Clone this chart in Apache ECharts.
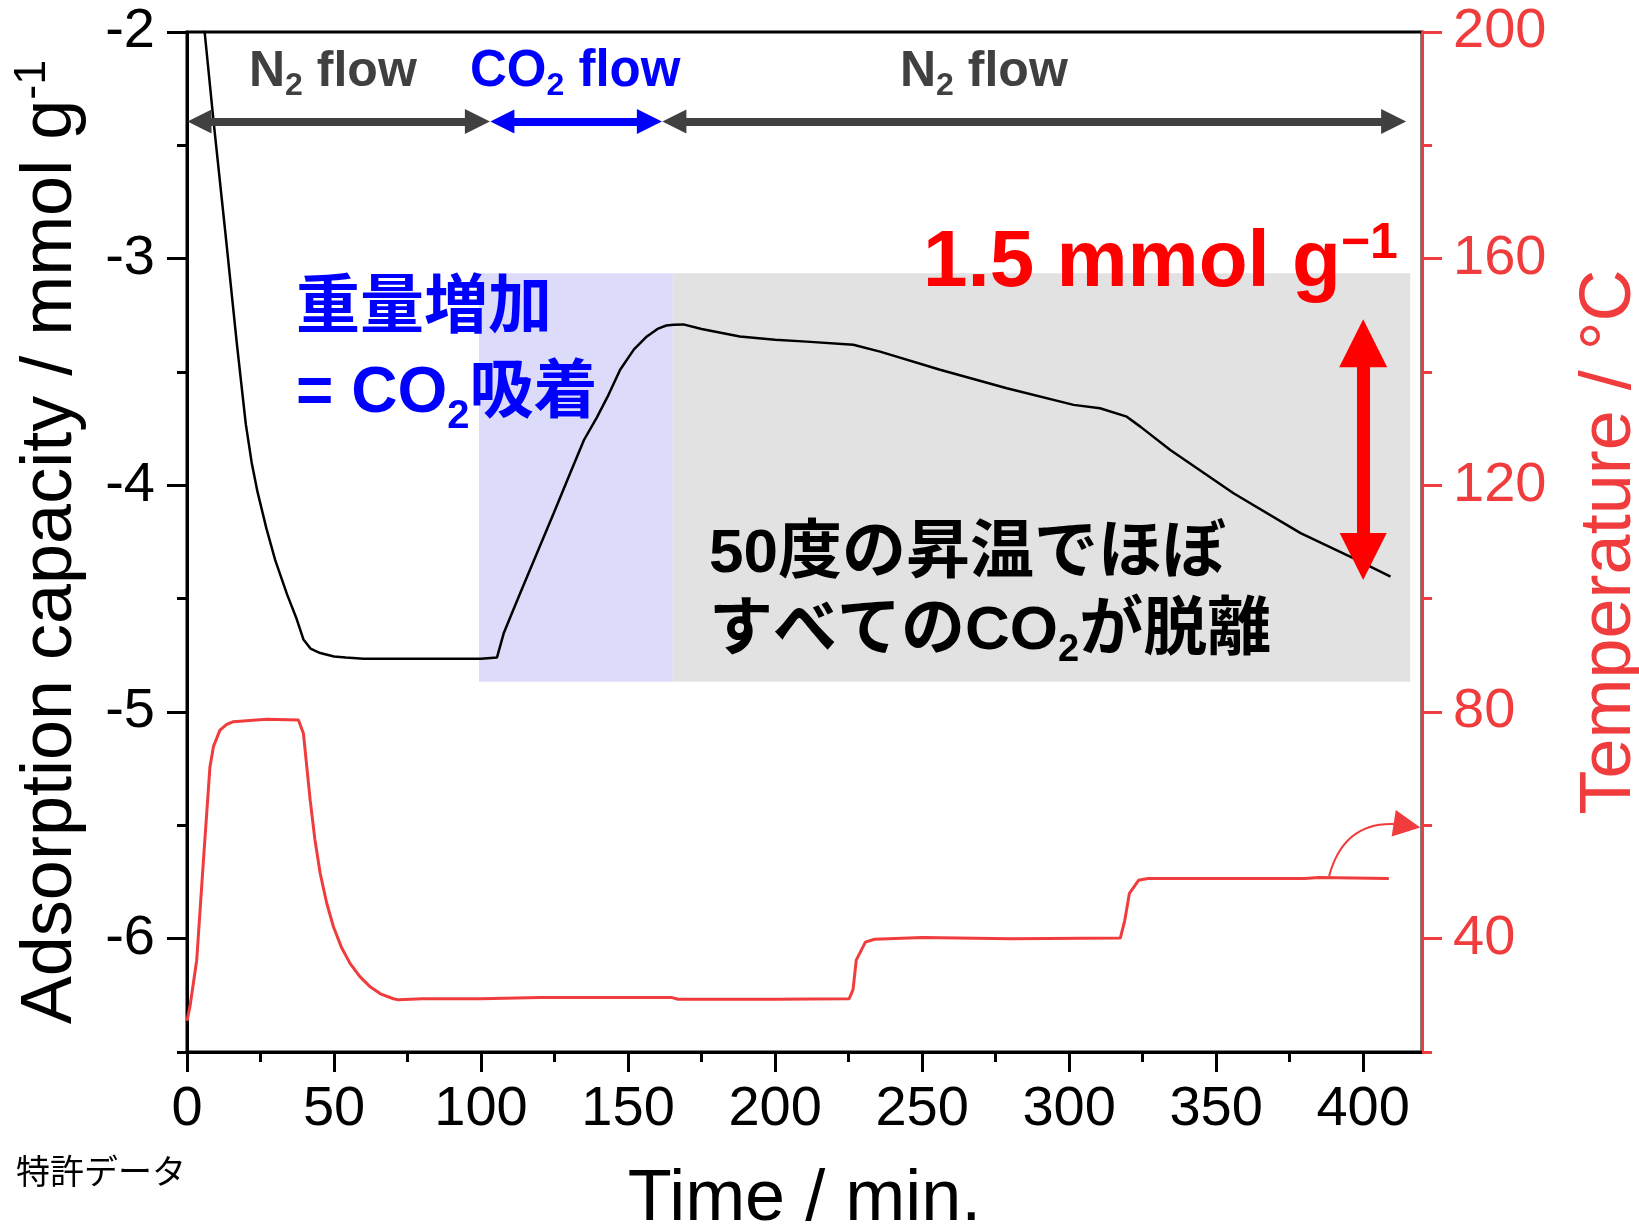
<!DOCTYPE html>
<html>
<head>
<meta charset="utf-8">
<script src="https://cdn.jsdelivr.net/npm/echarts@6/dist/echarts.min.js"></script>
<style>
html, body { margin: 0; padding: 0; background: #fff; }
#chart { width: 1639px; height: 1225px; }
</style>
</head>
<body>
<div id="chart"></div>
<script>
// ticks
const timeMajorTicks = [0, 50, 100, 150, 200, 250, 300, 350, 400]
const timeMinorTicks = [25, 75, 125, 175, 225, 275, 325, 375]
const capMajorTicks = [-6, -5, -4, -3, -2]
const capMinorTicks = [-6.5, -5.5, -4.5, -3.5, -2.5]
const tempMajorTicks = [40, 80, 120, 160, 200]
const tempMinorTicks = [20, 60, 100, 140, 180]

// adsorption capacity (mmol/g) vs time (min)
const capTime = [4, 6, 9, 13, 17, 20, 22, 24, 27, 30, 34, 37.3, 39.6, 42, 45.3, 50, 54, 60, 70, 80, 90, 100, 105.4,
    107.7, 110, 113.3, 119, 124.7, 130.3, 135, 139.4, 143, 147.3, 152, 156.4, 160, 163, 165.5, 168.8, 175, 188,
    200, 210.7, 226.6, 235.7, 256.1, 278.8, 301.5, 310.5, 319.6, 324.2, 334.4, 355.9, 378.7, 396.8, 409.3]
const capValue = [-1.75, -2.0, -2.39, -2.88, -3.38, -3.73, -3.9, -4.03, -4.19, -4.33, -4.48, -4.59, -4.68, -4.72, -4.74, -4.755, -4.76, -4.765, -4.765, -4.765, -4.765, -4.765, -4.76,
    -4.653, -4.58, -4.476, -4.3, -4.123, -3.947, -3.8, -3.7, -3.61, -3.49, -3.4, -3.343, -3.31, -3.295, -3.292, -3.29, -3.31, -3.343,
    -3.358, -3.366, -3.38, -3.41, -3.49, -3.572, -3.645, -3.66, -3.697, -3.741, -3.844, -4.035, -4.211, -4.322, -4.403]

// temperature (degC) vs time (min)
const tempTime = [0, 1, 3.3, 5.6, 7.8, 9, 11.2, 13.5, 15.8, 27.1, 37.9, 39.6, 41.9, 43.5, 45.3, 47.5, 49.8, 52.5, 55.5, 58.8,
    62.3, 66, 70.2, 72, 80, 100, 120, 140, 165, 167, 200, 225.2, 226.5, 227.6, 230.7, 233.8, 250, 280, 317.4, 318.9,
    320.5, 323.6, 326.8, 380, 385, 408.7]
const tempValue = [25.5, 28, 36.2, 53.9, 70.3, 73.9, 76.8, 77.8, 78.3, 78.7, 78.6, 76.2, 64.4, 57.5, 51.5, 46.3, 42.1, 38.5, 35.6, 33.3,
    31.5, 30.2, 29.4, 29.2, 29.4, 29.4, 29.6, 29.6, 29.6, 29.3, 29.3, 29.4, 31, 36.2, 39.4, 39.9, 40.2, 40.0, 40.1, 43.2,
    48.0, 50.3, 50.6, 50.6, 50.8, 50.6]

// gas flow phases (arrow tips, min)
const phaseStart = [0, 103, 161.5]
const phaseEnd = [103, 161.5, 414.6]
const phaseColor = ['#404040', '#0000ff', '#404040']
const phaseLevel = -2.395

// shaded regions
const shadeStart = [99.3, 165.2]
const shadeEnd = [165.2, 416]
const shadeColor = ['#dcdcfa', '#e2e2e2']
const shadeTop = -3.064
const shadeBottom = -4.867

// 1.5 mmol/g desorption arrow (tips)
const dropX = 400
const dropTop = -3.27
const dropBottom = -4.418

// curved arrow pointing at temperature axis
const pointerFrom = [388.4, 51]
const pointerTo = [419.5, 60]

const LATIN = '"Liberation Sans", Arial, "Noto Sans CJK JP", sans-serif'
const CJK = '"Liberation Sans", "Noto Sans CJK JP", sans-serif'
const RED = '#f03c3c'

const chart = echarts.init(document.getElementById('chart'), null, { renderer: 'canvas' })

// half of an arrow head, converted to data units so tips land on the values
const minPerPx = 420 / (1639 - 187 - 217)
const capPerPx = 4.5 / (1225 - 32 - 173)
const phaseHead = 12.5 * minPerPx
const dropHead = 23.5 * capPerPx
const pointerHead = 13.5 * minPerPx

let phaseLines = phaseStart.map((s, i) => ({
    coords: [[s + phaseHead, phaseLevel], [phaseEnd[i] - phaseHead, phaseLevel]],
    lineStyle: { color: phaseColor[i] }
}))

let shadeAreas = shadeStart.map((s, i) => [
    { xAxis: s, yAxis: shadeTop, itemStyle: { color: shadeColor[i] } },
    { xAxis: shadeEnd[i], yAxis: shadeBottom }
])

function tickAxis(ticks, len, color) {
    return { show: true, customValues: ticks, length: len, lineStyle: { color: color, width: 3 } }
}

let options = {
    animation: false,
    grid: {
        left: 187, right: 217, top: 32, bottom: 173,
        outerBoundsMode: 'none', containLabel: false,
        show: true, borderColor: '#000', borderWidth: 3, backgroundColor: 'transparent'
    },
    xAxis: [
        {
            type: 'value', position: 'bottom', min: 0, max: 420,
            axisLine: { show: true, lineStyle: { color: '#000', width: 3 } },
            axisTick: tickAxis(timeMajorTicks, 20, '#000'),
            axisLabel: { customValues: timeMajorTicks, fontSize: 56, color: '#000', margin: 30, fontFamily: LATIN },
            splitLine: { show: false },
            name: 'Time / min.', nameLocation: 'middle', nameGap: 112,
            nameTextStyle: { fontSize: 72, color: '#000', fontFamily: LATIN }
        },
        {
            type: 'value', position: 'bottom', min: 0, max: 420,
            axisLine: { show: false },
            axisTick: tickAxis(timeMinorTicks, 10, '#000'),
            axisLabel: { show: false },
            splitLine: { show: false }
        }
    ],
    yAxis: [
        {
            type: 'value', position: 'left', min: -6.5, max: -2,
            axisLine: { show: true, lineStyle: { color: '#000', width: 3 } },
            axisTick: tickAxis(capMinorTicks, 10, '#000'),
            axisLabel: { show: false },
            splitLine: { show: false }
        },
        {
            type: 'value', position: 'left', min: -6.5, max: -2,
            axisLine: { show: false },
            axisTick: tickAxis(capMajorTicks, 20, '#000'),
            axisLabel: { customValues: capMajorTicks, fontSize: 56, color: '#000', margin: 32, fontFamily: LATIN },
            splitLine: { show: false },
            name: '{a|Adsorption capacity / mmol g}{s|-1}',
            nameLocation: 'middle', nameRotate: 90, nameGap: 95,
            nameTextStyle: {
                rich: {
                    a: { fontSize: 72, color: '#000', fontFamily: LATIN, lineHeight: 82 },
                    s: { fontSize: 45, color: '#000', fontFamily: LATIN, lineHeight: 50, verticalAlign: 'top' }
                }
            }
        },
        {
            type: 'value', position: 'right', min: 20, max: 200,
            axisLine: { show: true, lineStyle: { color: RED, width: 3 } },
            axisTick: tickAxis(tempMinorTicks, 10, RED),
            axisLabel: { show: false },
            splitLine: { show: false }
        },
        {
            type: 'value', position: 'right', min: 20, max: 200,
            axisLine: { show: false },
            axisTick: tickAxis(tempMajorTicks, 20, RED),
            axisLabel: { customValues: tempMajorTicks, fontSize: 56, color: RED, margin: 31, fontFamily: LATIN },
            splitLine: { show: false },
            name: 'Temperature / °C',
            nameLocation: 'middle', nameRotate: 90, nameGap: 152,
            nameTextStyle: { fontSize: 72, color: RED, fontFamily: LATIN }
        }
    ],
    series: [
        {
            type: 'line', name: 'temperature', xAxisIndex: 0, yAxisIndex: 2,
            data: tempTime.map((t, i) => [t, tempValue[i]]),
            showSymbol: false, lineStyle: { color: RED, width: 3 }, z: 3
        },
        {
            type: 'line', name: 'capacity', xAxisIndex: 0, yAxisIndex: 0,
            data: capTime.map((t, i) => [t, capValue[i]]),
            showSymbol: false, lineStyle: { color: '#000', width: 2.5 }, z: 4,
            markArea: { silent: true, label: { show: false }, data: shadeAreas }
        },
        {
            type: 'lines', coordinateSystem: 'cartesian2d', xAxisIndex: 0, yAxisIndex: 0,
            data: phaseLines, symbol: ['triangle', 'triangle'], symbolSize: [24, 25],
            lineStyle: { width: 8, opacity: 1 }, silent: true, z: 5
        },
        {
            type: 'lines', coordinateSystem: 'cartesian2d', xAxisIndex: 0, yAxisIndex: 0,
            data: [{ coords: [[dropX, dropTop - dropHead], [dropX, dropBottom + dropHead]] }],
            symbol: ['triangle', 'triangle'], symbolSize: [48, 47],
            lineStyle: { color: '#ff0000', width: 13, opacity: 1 }, silent: true, z: 6
        },
        {
            type: 'lines', coordinateSystem: 'cartesian2d', xAxisIndex: 0, yAxisIndex: 2,
            data: [{ coords: [pointerFrom, [pointerTo[0] - pointerHead, pointerTo[1]]] }],
            symbol: ['none', 'triangle'], symbolSize: [13, 27],
            lineStyle: { color: RED, width: 2, opacity: 1, curveness: 0.45 }, silent: true, z: 6
        }
    ],
    graphic: [
        {
            type: 'text', x: 249, y: 42, z: 100,
            style: {
                text: '{n|N}{s|2}{n| flow}',
                rich: {
                    n: { fontSize: 50, fontWeight: 'bold', fontFamily: LATIN, fill: '#404040', lineHeight: 60 },
                    s: { fontSize: 32, fontWeight: 'bold', fontFamily: LATIN, fill: '#404040', lineHeight: 30, verticalAlign: 'bottom' }
                }
            }
        },
        {
            type: 'text', x: 470, y: 42, z: 100,
            style: {
                text: '{n|CO}{s|2}{n| flow}',
                rich: {
                    n: { fontSize: 51, fontWeight: 'bold', fontFamily: LATIN, fill: '#0000ff', lineHeight: 60 },
                    s: { fontSize: 32, fontWeight: 'bold', fontFamily: LATIN, fill: '#0000ff', lineHeight: 30, verticalAlign: 'bottom' }
                }
            }
        },
        {
            type: 'text', x: 900, y: 42, z: 100,
            style: {
                text: '{n|N}{s|2}{n| flow}',
                rich: {
                    n: { fontSize: 50, fontWeight: 'bold', fontFamily: LATIN, fill: '#404040', lineHeight: 60 },
                    s: { fontSize: 32, fontWeight: 'bold', fontFamily: LATIN, fill: '#404040', lineHeight: 30, verticalAlign: 'bottom' }
                }
            }
        },
        {
            type: 'text', x: 296, y: 267, z: 100,
            style: {
                text: '{k|重量増加}\n{l|= CO}{s|2}{k|吸着}',
                rich: {
                    k: { fontSize: 64, fontWeight: 'bold', fontFamily: CJK, fill: '#0000ff', lineHeight: 85 },
                    l: { fontSize: 64, fontWeight: 'bold', fontFamily: LATIN, fill: '#0000ff', lineHeight: 85 },
                    s: { fontSize: 40, fontWeight: 'bold', fontFamily: LATIN, fill: '#0000ff', lineHeight: 42, verticalAlign: 'bottom' }
                }
            }
        },
        {
            type: 'text', x: 923, y: 219, z: 100,
            style: {
                text: '{m|1.5 mmol g}{u|−1}',
                rich: {
                    m: { fontSize: 80, fontWeight: 'bold', fontFamily: LATIN, fill: '#ff0000', lineHeight: 90 },
                    u: { fontSize: 50, fontWeight: 'bold', fontFamily: LATIN, fill: '#ff0000', lineHeight: 61, verticalAlign: 'top' }
                }
            }
        },
        {
            type: 'text', x: 709, y: 516, z: 100,
            style: {
                text: '{d|50}{j|度の昇温でほぼ}\n{j|すべての}{d|CO}{s|2}{j|が脱離}',
                rich: {
                    d: { fontSize: 62, fontWeight: 'bold', fontFamily: LATIN, fill: '#000', lineHeight: 77 },
                    j: { fontSize: 64, fontWeight: 'bold', fontFamily: CJK, fill: '#000', lineHeight: 77 },
                    s: { fontSize: 38, fontWeight: 'bold', fontFamily: LATIN, fill: '#000', lineHeight: 40, verticalAlign: 'bottom' }
                }
            }
        },
        {
            type: 'text', x: 16, y: 1175, z: 100,
            style: {
                text: '特許データ', fontSize: 34, fontFamily: CJK, fill: '#000', verticalAlign: 'middle'
            }
        }
    ]
}

chart.setOption(options)
</script>
</body>
</html>
